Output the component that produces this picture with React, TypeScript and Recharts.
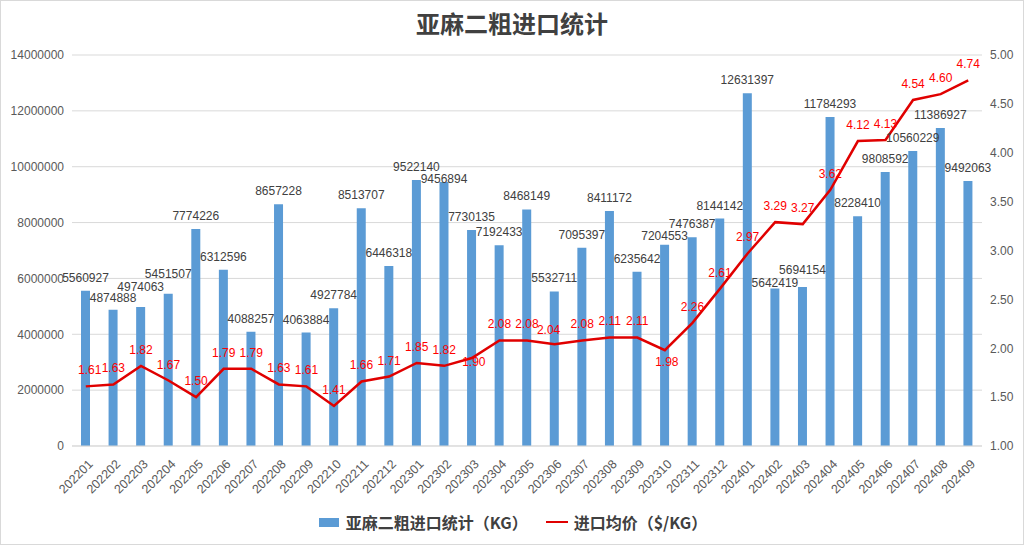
import React from 'react';
import { ComposedChart, Bar, Line, XAxis, YAxis, CartesianGrid, LabelList, Legend } from 'recharts';

const months = ['202201','202202','202203','202204','202205','202206','202207','202208','202209','202210','202211','202212','202301','202302','202303','202304','202305','202306','202307','202308','202309','202310','202311','202312','202401','202402','202403','202404','202405','202406','202407','202408','202409'];
const volumes = [5560927,4874888,4974063,5451507,7774226,6312596,4088257,8657228,4063884,4927784,8513707,6446318,9522140,9456894,7730135,7192433,8468149,5532711,7095397,8411172,6235642,7204553,7476387,8144142,12631397,5642419,5694154,11784293,8228410,9808592,10560229,11386927,9492063];
const prices = [1.61,1.63,1.82,1.67,1.50,1.79,1.79,1.63,1.61,1.41,1.66,1.71,1.85,1.82,1.90,2.08,2.08,2.04,2.08,2.11,2.11,1.98,2.26,2.61,2.97,3.29,3.27,3.62,4.12,4.13,4.54,4.60,4.74];
const leftTicks = [0,2000000,4000000,6000000,8000000,10000000,12000000,14000000];
const rightTicks = [1,1.5,2,2.5,3,3.5,4,4.5,5];

const barName = '亚麻二粗进口统计（KG）';
const lineName = '进口均价（$/KG）';

const data = months.map((m, i) => ({ month: m, volume: volumes[i], price: prices[i] }));

const FONT = 'Arial, "Liberation Sans", "Noto Sans CJK SC", sans-serif';
const CJK = '"Noto Sans CJK SC", "Microsoft YaHei", sans-serif';

// label placement tweaks (mimicking the reference's overlap-avoidance)
const barLabelDy: Record<number, number> = { 1: -12, 2: -20, 3: -20, 13: -3, 21: -9, 25: -5, 26: -17 };
const priceLabelDy: Record<number, number> = { 14: 4, 17: -14, 21: 12 };
const priceLabelDx: Record<number, number> = { 0: 4, 17: -6, 14: 2, 21: 2 };

const XTick = (props: any) => {
  const { x, y, payload } = props;
  return (
    <g transform={`translate(${x + 5},${y + 8})`}>
      <text x={0} y={0} transform="rotate(-45)" textAnchor="end" dominantBaseline="central" fontSize={12.5} fill="#595959" fontFamily={FONT}>
        {payload.value}
      </text>
    </g>
  );
};

const BarLabel = (props: any) => {
  const { x, y, width, value, index } = props;
  const dy = barLabelDy[index] ?? -13;
  return (
    <text x={x + width / 2} y={y + dy} textAnchor="middle" dominantBaseline="central" fontSize={12} fill="#404040" fontFamily={FONT}>
      {value}
    </text>
  );
};

const PriceLabel = (props: any) => {
  const { x, y, value, index } = props;
  const dy = priceLabelDy[index] ?? -16;
  const dx = priceLabelDx[index] ?? 0;
  return (
    <text x={x + dx} y={y + dy} textAnchor="middle" dominantBaseline="central" fontSize={12} fill="#FF0000" fontFamily={FONT}>
      {Number(value).toFixed(2)}
    </text>
  );
};

const LegendContent = () => (
  <div style={{ display: 'flex', justifyContent: 'center', alignItems: 'center', height: 30, fontFamily: CJK, fontWeight: 700, fontSize: 16, color: '#404040' }}>
    <span style={{ display: 'inline-block', width: 20, height: 9, background: '#5B9BD5', marginRight: 7 }} />
    <span>{barName}</span>
    <span style={{ display: 'inline-block', width: 22, height: 2.5, background: '#E00000', marginLeft: 18, marginRight: 6 }} />
    <span>{lineName}</span>
  </div>
);

export default function App() {
  return (
    <div style={{ position: 'absolute', left: 0, top: 0, width: 1024, height: 545, background: '#fff' }}>
      <style>{`body{margin:0}`}</style>
      <div style={{ position: 'absolute', left: 0, top: 5, width: 1024, textAlign: 'center', fontFamily: CJK, fontWeight: 700, fontSize: 24, color: '#404040', lineHeight: '36px' }}>
        亚麻二粗进口统计
      </div>
      <ComposedChart width={1024} height={545} data={data} margin={{ top: 55, right: 6, bottom: 8, left: 8 }}>
        <CartesianGrid vertical={false} stroke="#D9D9D9" yAxisId="left" />
        <XAxis dataKey="month" interval={0} tick={<XTick />} tickLine={false} axisLine={{ stroke: '#D9D9D9' }} height={61} />
        <YAxis yAxisId="left" domain={[0, 14000000]} ticks={leftTicks} width={64} axisLine={false} tickLine={false} tick={{ fontSize: 12, fill: '#595959', fontFamily: FONT }} />
        <YAxis yAxisId="right" orientation="right" domain={[1, 5]} ticks={rightTicks} width={36} axisLine={false} tickLine={false} tickFormatter={(v: number) => v.toFixed(2)} tick={{ fontSize: 12, fill: '#595959', fontFamily: FONT }} />
        <Legend verticalAlign="bottom" height={30} content={<LegendContent />} />
        <Bar yAxisId="left" dataKey="volume" name={barName} fill="#5B9BD5" barSize={9} isAnimationActive={false}>
          <LabelList dataKey="volume" content={<BarLabel />} />
        </Bar>
        <Line yAxisId="right" dataKey="price" name={lineName} stroke="#E00000" strokeWidth={2.5} dot={false} type="linear" isAnimationActive={false}>
          <LabelList dataKey="price" content={<PriceLabel />} />
        </Line>
      </ComposedChart>
      <div style={{ position: 'absolute', left: 0, top: 0, width: 1024, height: 545, boxSizing: 'border-box', border: '1px solid #D9D9D9', pointerEvents: 'none' }} />
    </div>
  );
}
